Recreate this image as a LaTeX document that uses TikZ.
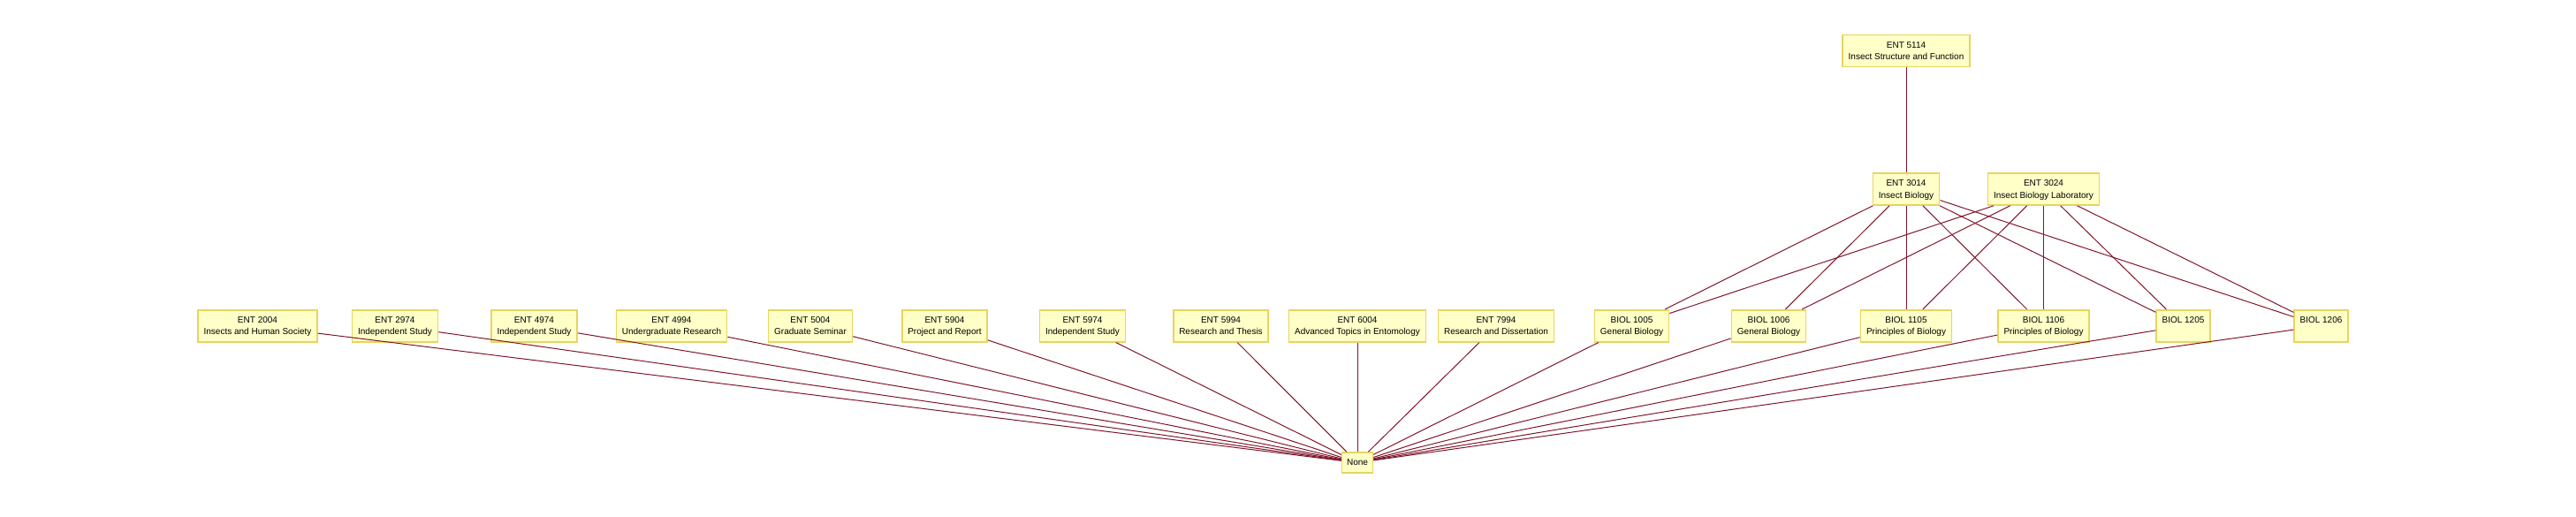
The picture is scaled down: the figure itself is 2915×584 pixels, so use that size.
\documentclass[tikz,border=0pt]{standalone}
\usepackage{fontspec}
\setmainfont{Liberation Sans}
\usetikzlibrary{positioning}
\definecolor{boxfill}{RGB}{255,255,200}
\definecolor{boxline}{RGB}{232,212,96}
\definecolor{reqcolor}{RGB}{128,22,42}
\def\rowy{368.7}
\tikzset{
  course/.style = {rectangle, draw=boxline, fill=boxfill, line width=1.6pt,
                   minimum height=36pt, inner xsep=6.5pt, inner ysep=0pt,
                   align=center, font=\fontsize{10}{13.3}\selectfont,
                   text depth=0pt},
  nonebox/.style = {course, minimum height=23pt, inner xsep=5.5pt},
  prereq/.style = {draw=reqcolor, line width=1pt}
}
\begin{document}
\begin{tikzpicture}[x=1pt,y=-1pt]
\useasboundingbox (0,0) rectangle (2915,584);

% -------------------- Nodes --------------------

% top levels
\node[course] (ent5114) at (2157,57.5) {ENT 5114\\Insect Structure and Function};
\node[course] (ent3014) at (2157,214) {ENT 3014\\Insect Biology};
\node[course] (ent3024) at (2312.5,214) {ENT 3024\\Insect Biology Laboratory};

% course row: ENT 2004 ... BIOL 1206
\foreach \x/\name [count=\ci] in {291.5/{ENT 2004\\Insects and Human Society},
                                  447/{ENT 2974\\Independent Study},
                                  604.5/{ENT 4974\\Independent Study},
                                  760/{ENT 4994\\Undergraduate Research},
                                  917/{ENT 5004\\Graduate Seminar},
                                  1069/{ENT 5904\\Project and Report},
                                  1225/{ENT 5974\\Independent Study},
                                  1381.5/{ENT 5994\\Research and Thesis},
                                  1536/{ENT 6004\\Advanced Topics in Entomology},
                                  1693/{ENT 7994\\Research and Dissertation},
                                  1846.5/{BIOL 1005\\General Biology},
                                  2001.5/{BIOL 1006\\General Biology},
                                  2157/{BIOL 1105\\Principles of Biology},
                                  2312.5/{BIOL 1106\\Principles of Biology},
                                  2470.5/{BIOL 1205\\\mbox{}},
                                  2626.5/{BIOL 1206\\\mbox{}}}{
  \node[course] (c\ci) at (\x,\rowy) {\name};
}

% no prerequisite
\node[nonebox] (none) at (1536,523.5) {None};

% -------------------- Connections --------------------

\draw[prereq] (ent5114) -- (ent3014);

% ENT 3014 / ENT 3024 -> BIOL row
\foreach \ci in {11,...,16}{
  \draw[prereq] (ent3014) -- (c\ci);
  \draw[prereq] (ent3024) -- (c\ci);
}

% course row -> None
\foreach \ci in {1,...,16}{
  \draw[prereq] (c\ci) -- (none);
}

\end{tikzpicture}
\end{document}
